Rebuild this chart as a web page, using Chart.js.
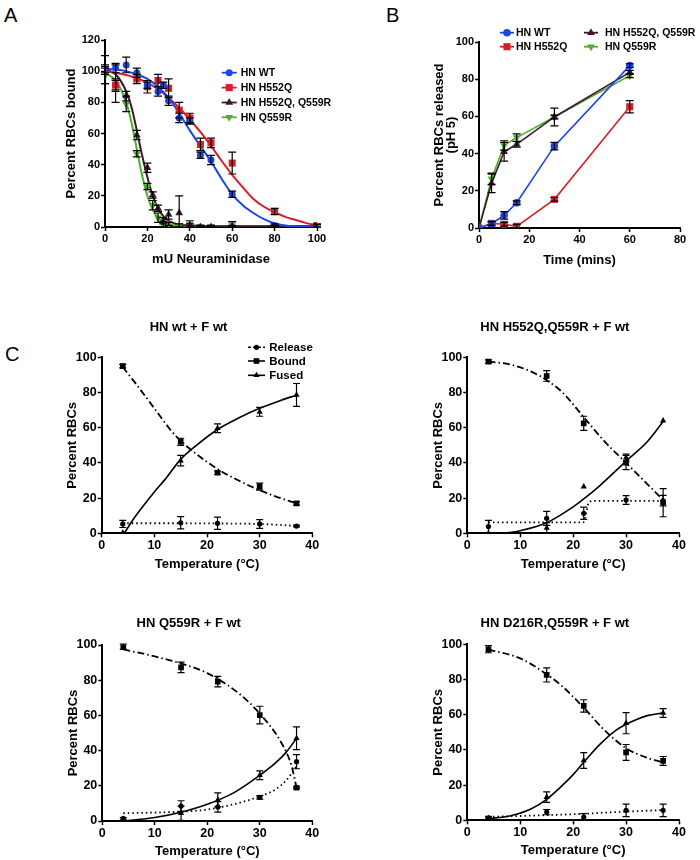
<!DOCTYPE html>
<html><head><meta charset="utf-8">
<script src="https://cdn.jsdelivr.net/npm/chart.js@4.4.1/dist/chart.umd.min.js"></script>
<style>
html,body{margin:0;padding:0;background:#fff;}
body{width:700px;height:860px;position:relative;overflow:hidden;font-family:"Liberation Sans",Arial,sans-serif;}
canvas{position:absolute;}
.lbl{position:absolute;font-size:20px;line-height:20px;color:#000;}
</style></head><body>
<div class="lbl" style="left:4px;top:5px">A</div>
<div class="lbl" style="left:386px;top:5px">B</div>
<div class="lbl" style="left:5px;top:344px">C</div>
<canvas id="cA" width="350" height="280" style="left:0px;top:0px"></canvas>
<canvas id="cB" width="350" height="280" style="left:350px;top:0px"></canvas>
<canvas id="cC1" width="350" height="280" style="left:0px;top:300px"></canvas>
<canvas id="cC2" width="350" height="280" style="left:350px;top:300px"></canvas>
<canvas id="cC3" width="350" height="270" style="left:0px;top:590px"></canvas>
<canvas id="cC4" width="350" height="270" style="left:350px;top:590px"></canvas>
<script>
// ---------------- Panel A : RBC binding vs neuraminidase ----------------
const seriesNames = ['HN WT', 'HN H552Q', 'HN H552Q, Q559R', 'HN Q559R'];
const aWT_x = [0,5,10,15,20,25,27.5,30,35,40,45,50,60,80,100];
const aWT_y = [101,102,104,99,91,87,91,81,70,68,46,43,21,1,0];
const aWT_err = [2,3,5,3,2,3,2,3,3,2,2,3,2,1,0];
const aH552Q_x = [0,5,15,20,25,30,35,40,45,50,60,80,100];
const aH552Q_y = [101,91,95,90,94,89,75,70,53,54,41,10,1];
const aH552Q_err = [3,3,3,4,4,6,5,3,4,3,7,2,1];
const aDbl_x = [0,5,10,15,20,22.5,25,27.5,30,35,40,45,50,60,80,100];
const aDbl_y = [101,92,84,59,38,20.5,12,4,8,9,1,0,0,0,0,0.5];
const aDbl_err = [9,12,3,3,3,2,2,2,3,11,1,1,1,1,1,1];
const aQ559R_x = [0,5,10,15,20,22.5,25,27.5,30,35,40,45,50,60,80,100];
const aQ559R_y = [97,91,79,47,26,14,6,1.5,2,1,2,0,0,1.5,0,0.5];
const aQ559R_err = [5,4,5,2,2,3,3,2,1,1,2,1,1,2,1,1];
// fitted curves
const aFit_x = [0,5,10,15,20,25,30,35,40,45,50,55,60,65,70,75,80,85,90,95,100];
const aFitWT = [101.5,101,100,98,95,90,83,73,62,52,42,31,21,14,9,5,2.3,1,0.4,0.1,0];
const aFitH552Q = [100,99,97.5,95.5,92.5,88.5,83,76.5,69,61,52,42.5,33.5,25.5,18,13,9.5,6.5,4.5,2.5,1.2];
const aFitDbl_x = [0,5,10,12.5,15,17.5,20,22.5,25,27.5,30,35,40,50,100];
const aFitDbl = [101,98,87,77,62,46,32,20,12,7,4,1.5,1,0.5,0.5];
const aFitQ_x = [0,5,10,12.5,15,17.5,20,22.5,25,27.5,30,35,40,100];
const aFitQ = [99,94,80,67,50,33,20,11,6,3,1.5,0.8,0.5,0.5];

// ---------------- Panel B : release at pH 5 ----------------
const bTime = [0,5,10,15,30,60];
const bWT = [0,2.3,6.8,13.6,44,87.3];
const bWT_err = [0,1,2,1,2,1];
const bH552Q = [0,2.5,2,0.9,15.4,65.2];
const bH552Q_err = [0,1,1,1,1,3.3];
const bDbl = [0,24,41,45,59.7,83.7];
const bDbl_err = [0,5,5,1.5,1,1];
const bQ559R = [0,26.5,44.4,48.6,59.7,81.9];
const bQ559R_err = [0,3,2.5,2,4.8,1];

// ---------------- Panel C : temperature series ----------------
const cTemps = [4,15,22,30,37];
const cNames = ['Release', 'Bound', 'Fused'];
const cTitles = ['HN wt + F wt', 'HN H552Q,Q559R + F wt', 'HN Q559R + F wt', 'HN D216R,Q559R + F wt'];
// C1 HN wt + F wt
const c1Release = [5.3,6,5.7,5.3,4.1];
const c1Release_err = [2,3.5,3.5,2.5,0.5];
const c1Bound = [95,52,34.4,26.5,17];
const c1Bound_err = [1,2,1,2,1];
const c1Fused = [0.3,41.3,59.7,69,78.6];
const c1Fused_err = [0,3,2.5,2.5,6.5];
const c1FitRelease_x = [4,15,22,30,37];
const c1FitRelease = [5.7,5.7,5.6,5.3,4.2];
const c1FitBound_x = [4,7,10,13,15,18,22,26,30,33,37];
const c1FitBound = [94.5,83,71,59,52.5,45,36.5,30,24.5,21,17];
const c1FitFused_x = [4.3,6,8,10,12,15,18,22,26,30,34,37];
const c1FitFused = [0,8,16,23.5,30.5,42,50,59,65.5,71,75.5,78.5];
// C2 HN H552Q,Q559R + F wt
const c2Release = [3.8,8.5,11.4,18.9,18.5];
const c2Release_err = [3.5,4,3.5,2.5,3];
const c2Bound = [97.5,89.4,62.5,40.2,17.4];
const c2Bound_err = [1,3,4,4,8];
const c2Fused = [0,3,26.5,43,64];
const c2Fused_err = [0,3,0,2,0];
const c2FitRelease_x = [4,10,15,20,22,22.5,23,24,30,37];
const c2FitRelease = [6.2,6.2,6.2,6.2,6.4,12,17.8,18.4,18.4,18.4];
const c2FitBound_x = [4,8,12,15,18,22,26,30,34,37];
const c2FitBound = [97.5,96,92,87,80,66,52,40,28,19];
const c2FitFused_x = [6,8,10,15,20,22,25,30,34,37];
const c2FitFused = [0,0.5,1.5,6,15,19.5,27,41,52,63.5];
// C3 HN Q559R + F wt
const c3Release = [1.5,8.5,8,13.4,33.7];
const c3Release_err = [0.5,3,3,1,4];
const c3Bound = [99,87.3,79.2,60.2,18.9];
const c3Bound_err = [1.5,3,3,5,0.5];
const c3Fused = [0.5,4.4,12,26,47];
const c3Fused_err = [0,4,4,2.5,6.5];
const c3FitRelease_x = [4,10,15,20,25,30,33,35,37];
const c3FitRelease = [4.4,4.8,5.3,6.5,9.5,14,18,23,31];
const c3FitBound_x = [4,10,15,20,26,30,34,36,37];
const c3FitBound = [97.5,93.5,89.5,84,72.5,61,45,31.8,19];
const c3FitFused_x = [4,10,15,20,25,30,33,35,37];
const c3FitFused = [0,2,5,9.5,16,26,33,39,47];
// C4 HN D216R,Q559R + F wt
const c4Release = [1.3,4.7,1.9,5.7,5.7];
const c4Release_err = [1,1.5,2,3.5,3.5];
const c4Bound = [97.2,82.6,65,38.6,33.8];
const c4Bound_err = [2,4,3.5,4.5,2.5];
const c4Fused = [1.3,13.2,34,55.2,61];
const c4Fused_err = [0.5,3,4.5,6,2.5];
const c4FitRelease_x = [4,10,15,20,25,30,37];
const c4FitRelease = [2,2.5,3,3.5,4.2,5,5.9];
const c4FitBound_x = [4,10,15,18,22,26,30,34,37];
const c4FitBound = [97,92,83,76,64,51,41,35.5,33];
const c4FitFused_x = [4,8,12,15,18,20,22,25,28,31,34,37];
const c4FitFused = [1,2.5,6.5,12,20,26,33,43,51,56,59.5,61];

// ---------------- helpers ----------------
const FONT = '"Liberation Sans", Arial, Helvetica, sans-serif';
const COL = {wt:'#1f45e6', h552q:'#d4202a', dbl:'#3c1a2c', q559r:'#4fae2a'};
const pts = (xs, ys) => xs.map((x, i) => ({x: x, y: ys[i]}));

function drawMarker(ctx, style, rot, r, x, y, color) {
  ctx.save();
  ctx.fillStyle = color;
  ctx.beginPath();
  if (style === 'rect') {
    const s = r * Math.SQRT1_2;
    ctx.rect(x - s, y - s, 2 * s, 2 * s);
  } else if (style === 'triangle') {
    let rad = (rot || 0) * Math.PI / 180;
    for (let k = 0; k < 3; k++) {
      const px = x + Math.sin(rad) * r, py = y - Math.cos(rad) * r;
      if (k === 0) ctx.moveTo(px, py); else ctx.lineTo(px, py);
      rad += 2 * Math.PI / 3;
    }
    ctx.closePath();
  } else {
    ctx.arc(x, y, r, 0, Math.PI * 2);
  }
  ctx.fill();
  ctx.restore();
}

const errorBars = {
  id: 'errorBars',
  afterDatasetsDraw(chart) {
    const ctx = chart.ctx, xs = chart.scales.x, ys = chart.scales.y;
    chart.data.datasets.forEach((ds) => {
      if (!ds.errors) return;
      ctx.save();
      ctx.strokeStyle = '#000';
      ctx.lineWidth = 1.2;
      const cap = ds.capHalf || 4;
      ds.data.forEach((p, i) => {
        const e = ds.errors[i];
        if (!e) return;
        const px = xs.getPixelForValue(p.x);
        const y1 = ys.getPixelForValue(p.y + e);
        const y2 = ys.getPixelForValue(Math.max(p.y - e, ys.min));
        ctx.beginPath();
        ctx.moveTo(px, y1); ctx.lineTo(px, y2);
        ctx.moveTo(px - cap, y1); ctx.lineTo(px + cap, y1);
        ctx.moveTo(px - cap, y2); ctx.lineTo(px + cap, y2);
        ctx.stroke();
      });
      ctx.restore();
    });
  }
};

function legendPlugin(cfg) {
  return {
    id: 'boxLegend',
    afterDraw(chart) {
      const ctx = chart.ctx;
      cfg.items.forEach(it => {
        const ds = chart.data.datasets[it.ds];
        const color = ds.pointBackgroundColor;
        const x0 = it.x - cfg.ox, y0 = it.y - cfg.oy;
        ctx.save();
        ctx.strokeStyle = color;
        ctx.lineWidth = cfg.lineWidth;
        ctx.setLineDash(it.dash || []);
        ctx.beginPath(); ctx.moveTo(x0, y0); ctx.lineTo(x0 + cfg.lineLen, y0); ctx.stroke();
        ctx.setLineDash([]);
        drawMarker(ctx, ds.pointStyle, ds.pointRotation || 0, cfg.markerR || ds.pointRadius, x0 + cfg.lineLen / 2, y0, color);
        ctx.fillStyle = '#000';
        ctx.font = cfg.font;
        ctx.textBaseline = 'middle';
        ctx.textAlign = 'left';
        ctx.fillText(it.text, it.tx - cfg.ox, y0 + 0.5);
        ctx.restore();
      });
    }
  };
}

function axes(o) {
  const tf = {family: FONT, size: o.tick, weight: 'bold'};
  const grid = {display: true, drawOnChartArea: false, drawTicks: true, tickLength: 4, tickColor: '#000', tickWidth: 1.5};
  const border = {display: true, color: '#000', width: 2};
  return {
    x: {
      type: 'linear', min: o.xmin, max: o.xmax,
      afterFit: s => { s.height = o.xh; },
      ticks: {stepSize: o.xstep, font: tf, color: '#000', padding: 1, maxRotation: 0, autoSkip: false},
      grid: grid, border: border,
      title: {display: true, text: o.xtitle, font: {family: FONT, size: 13, weight: 'bold', lineHeight: 1.2}, color: '#000', padding: 0}
    },
    y: {
      type: 'linear', min: o.ymin, max: o.ymax,
      afterFit: s => { s.width = o.yw; },
      ticks: {stepSize: o.ystep, font: tf, color: '#000', padding: 1, autoSkip: false},
      grid: grid, border: border,
      title: {display: true, text: o.ytitle, font: {family: FONT, size: 13, weight: 'bold', lineHeight: o.ylh || 1.2}, color: '#000', padding: 0}
    }
  };
}

function pointDs(label, xs, ys, errs, color, style, r, rot, cap, line) {
  return {
    label: label, data: pts(xs, ys), errors: errs, capHalf: cap,
    pointStyle: style, pointRadius: r, pointRotation: rot || 0, pointHoverRadius: r,
    pointBackgroundColor: color, pointBorderColor: color, pointBorderWidth: 0,
    borderColor: color, backgroundColor: color, borderWidth: line ? 1.6 : 0,
    showLine: !!line, fill: false
  };
}
function fitDs(label, xs, ys, color, dash, width) {
  return {
    label: label, data: pts(xs, ys), showLine: true, pointRadius: 0, pointHoverRadius: 0,
    borderColor: color, borderWidth: width || 2, borderDash: dash || [],
    cubicInterpolationMode: 'monotone', fill: false, pointBackgroundColor: color
  };
}

function make(id, datasets, scaleOpts, padding, title, legendCfg) {
  const opts = {
    responsive: false, animation: false, devicePixelRatio: 1,
    layout: {padding: padding},
    scales: axes(scaleOpts),
    plugins: {
      legend: {display: false}, tooltip: {enabled: false},
      title: title ? {display: true, text: title.text, color: '#000',
        font: {family: FONT, size: 13, weight: 'bold', lineHeight: 1.2},
        padding: {top: title.pt, bottom: title.pb}} : {display: false}
    }
  };
  const plugins = [errorBars];
  if (legendCfg) plugins.push(legendPlugin(legendCfg));
  return new Chart(document.getElementById(id), {type: 'scatter', data: {datasets: datasets}, options: opts, plugins: plugins});
}

// ---------------- Panel A ----------------
make('cA', [
  pointDs(seriesNames[0], aWT_x, aWT_y, aWT_err, COL.wt, 'circle', 3.5),
  pointDs(seriesNames[1], aH552Q_x, aH552Q_y, aH552Q_err, COL.h552q, 'rect', 5),
  pointDs(seriesNames[2], aDbl_x, aDbl_y, aDbl_err, COL.dbl, 'triangle', 4.5),
  pointDs(seriesNames[3], aQ559R_x, aQ559R_y, aQ559R_err, COL.q559r, 'triangle', 4.5, 180),
  fitDs('fit WT', aFit_x, aFitWT, COL.wt),
  fitDs('fit H552Q', aFit_x, aFitH552Q, COL.h552q),
  fitDs('fit dbl', aFitDbl_x, aFitDbl, COL.dbl),
  fitDs('fit Q559R', aFitQ_x, aFitQ, COL.q559r)
], {xmin: 0, xmax: 100, xstep: 20, ymin: 0, ymax: 120, ystep: 20, tick: 11, xh: 39.8, yw: 41.8,
    xtitle: 'mU Neuraminidase', ytitle: 'Percent RBCs bound'},
  {left: 63.2, right: 33, top: 40, bottom: 13.2}, null,
  {ox: 0, oy: 0, lineLen: 15, lineWidth: 1.8, font: 'bold 10.5px ' + FONT, items: [
    {ds: 0, text: seriesNames[0], x: 221.7, y: 72.7, tx: 240.7},
    {ds: 1, text: seriesNames[1], x: 221.7, y: 87.6, tx: 240.7},
    {ds: 2, text: seriesNames[2], x: 221.7, y: 102.5, tx: 240.7},
    {ds: 3, text: seriesNames[3], x: 221.7, y: 117.3, tx: 240.7}
  ]});

// ---------------- Panel B ----------------
make('cB', [
  pointDs(seriesNames[0], bTime, bWT, bWT_err, COL.wt, 'circle', 3.8, 0, 4, true),
  pointDs(seriesNames[1], bTime, bH552Q, bH552Q_err, COL.h552q, 'rect', 5, 0, 4, true),
  pointDs(seriesNames[2], bTime, bDbl, bDbl_err, COL.dbl, 'triangle', 4.5, 0, 4, true),
  pointDs(seriesNames[3], bTime, bQ559R, bQ559R_err, COL.q559r, 'triangle', 4.5, 180, 4, true)
], {xmin: 0, xmax: 80, xstep: 20, ymin: 0, ymax: 100, ystep: 20, tick: 11, xh: 39.8, yw: 46.25, ylh: 0.96,
    xtitle: 'Time (mins)', ytitle: ['Percent RBCs released', '(pH 5)']},
  {left: 82.75, right: 20, top: 42, bottom: 12.2}, null,
  {ox: 350, oy: 0, lineLen: 14, lineWidth: 1.8, font: 'bold 10.5px ' + FONT, items: [
    {ds: 0, text: seriesNames[0], x: 500, y: 32.7, tx: 516},
    {ds: 1, text: seriesNames[1], x: 500, y: 46.7, tx: 516},
    {ds: 2, text: seriesNames[2], x: 584, y: 32.7, tx: 605},
    {ds: 3, text: seriesNames[3], x: 584, y: 46.7, tx: 605}
  ]});

// ---------------- Panel C ----------------
const DOT = [1.5, 3], DASHDOT = [7, 3, 1.5, 3];
function cSets(rel, relE, bnd, bndE, fus, fusE, frx, fr, fbx, fb, ffx, ff) {
  return [
    pointDs(cNames[0], cTemps, rel, relE, '#000', 'circle', 2.6, 0, 3.5),
    pointDs(cNames[1], cTemps, bnd, bndE, '#000', 'rect', 4, 0, 3.5),
    pointDs(cNames[2], cTemps, fus, fusE, '#000', 'triangle', 3.6, 0, 3.5),
    fitDs('fit release', frx, fr, '#000', DOT, 1.8),
    fitDs('fit bound', fbx, fb, '#000', DASHDOT, 1.8),
    fitDs('fit fused', ffx, ff, '#000', [], 1.6)
  ];
}
const cAxis = (xh, yw) => ({xmin: 0, xmax: 40, xstep: 10, ymin: 0, ymax: 100, ystep: 20, tick: 12.5, xh: xh, yw: yw,
  xtitle: 'Temperature (\u00B0C)', ytitle: 'Percent RBCs'});

make('cC1', cSets(c1Release, c1Release_err, c1Bound, c1Bound_err, c1Fused, c1Fused_err,
    c1FitRelease_x, c1FitRelease, c1FitBound_x, c1FitBound, c1FitFused_x, c1FitFused),
  cAxis(38.5, 37), {left: 64.7, right: 37.7, top: 0, bottom: 8.2}, {text: cTitles[0], pt: 19.2, pb: 22.5},
  {ox: 0, oy: 300, lineLen: 17, lineWidth: 1.6, markerR: 0, font: 'bold 11.5px ' + FONT, items: [
    {ds: 0, text: cNames[0], x: 248, y: 347.3, tx: 269.3, dash: [3, 2]},
    {ds: 1, text: cNames[1], x: 248, y: 361, tx: 269.3},
    {ds: 2, text: cNames[2], x: 248, y: 375.3, tx: 269.3}
  ]});
make('cC2', cSets(c2Release, c2Release_err, c2Bound, c2Bound_err, c2Fused, c2Fused_err,
    c2FitRelease_x, c2FitRelease, c2FitBound_x, c2FitBound, c2FitFused_x, c2FitFused),
  cAxis(38.5, 36.6), {left: 80.7, right: 21, top: 0, bottom: 8.2}, {text: cTitles[1], pt: 19.2, pb: 22.5}, null);
make('cC3', cSets(c3Release, c3Release_err, c3Bound, c3Bound_err, c3Fused, c3Fused_err,
    c3FitRelease_x, c3FitRelease, c3FitBound_x, c3FitBound, c3FitFused_x, c3FitFused),
  cAxis(37.8, 37.1), {left: 65.2, right: 37.7, top: 0, bottom: 1.2}, {text: cTitles[2], pt: 25.2, pb: 14.2}, null);
make('cC4', cSets(c4Release, c4Release_err, c4Bound, c4Bound_err, c4Fused, c4Fused_err,
    c4FitRelease_x, c4FitRelease, c4FitBound_x, c4FitBound, c4FitFused_x, c4FitFused),
  cAxis(38.1, 36.6), {left: 80.7, right: 21, top: 0, bottom: 1.5}, {text: cTitles[3], pt: 25.2, pb: 13.5}, null);
</script>
</body></html>
